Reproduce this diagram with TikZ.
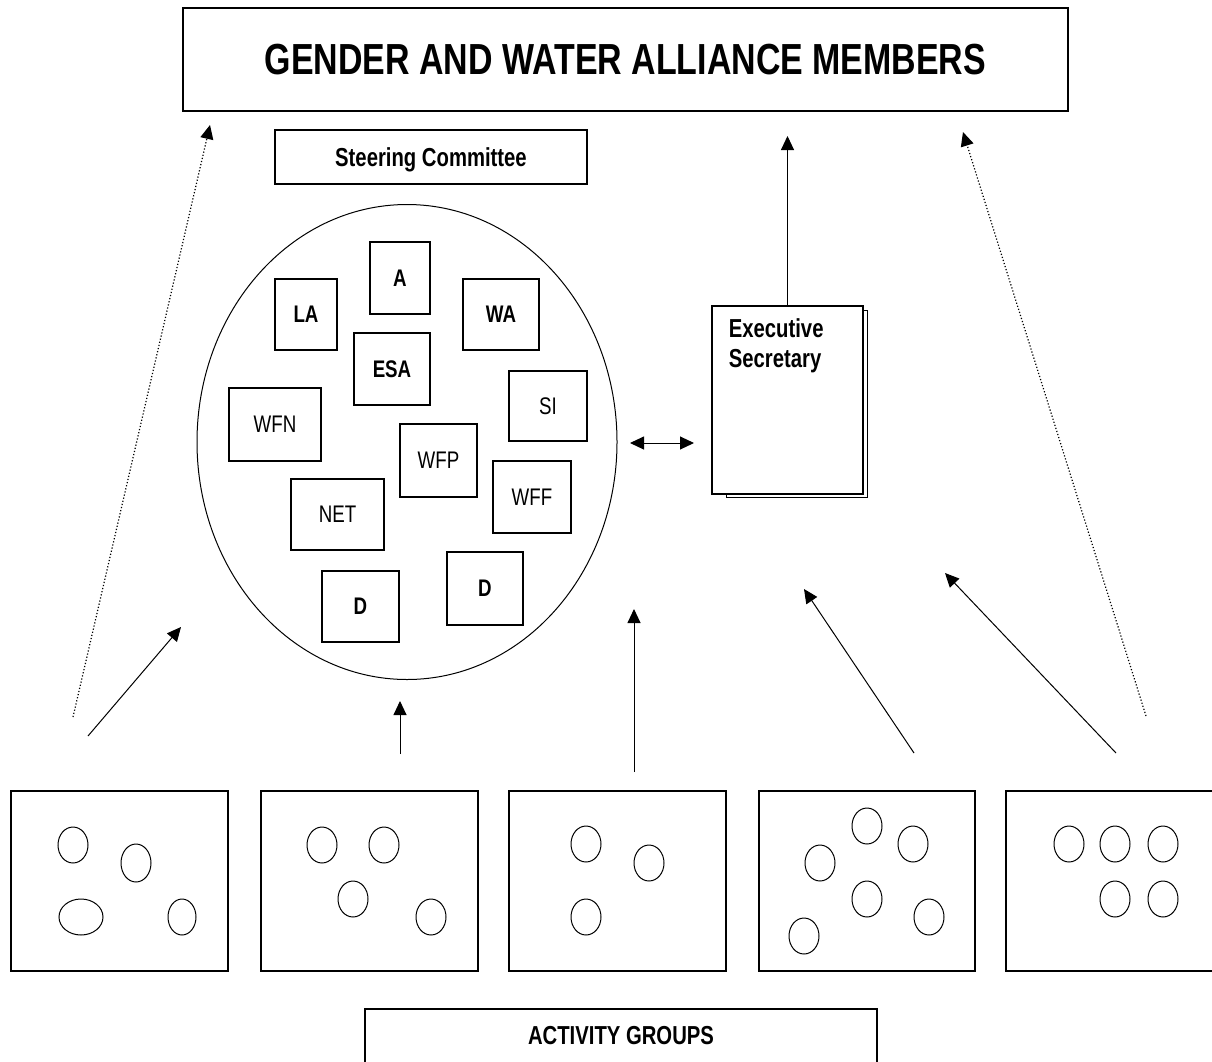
\documentclass[tikz,border=0pt]{standalone}
\usepackage{fontspec}
\newfontfamily\narrowfont{Liberation Sans}[FakeStretch=0.78]
\usetikzlibrary{shapes.geometric,arrows.meta}

\begin{document}
\begin{tikzpicture}[x=1pt,y=-1pt,thick,
  box/.style={draw,line width=1.3pt,inner sep=0pt},
  member/.style={box,line width=1.1pt,font=\narrowfont\bfseries\fontsize{24}{28}\selectfont},
  thin member/.style={member,font=\narrowfont\fontsize{24}{28}\selectfont},
  group/.style={box,minimum width=217pt,minimum height=180pt},
  link/.style={-{Triangle[length=14pt,width=13pt]},line width=1pt},
  dotted link/.style={link,line width=1.2pt,dash pattern=on 1.2pt off 2pt}]
\tikzstyle{blob} = [draw,line width=1pt]

\useasboundingbox (0,0) rectangle (1212,1061);
\clip (0,0) rectangle (1212,1061);

\node[box,line width=1.5pt,minimum width=885pt,minimum height=103pt,font=\narrowfont\bfseries\fontsize{43.5}{50}\selectfont] (members) at (625.5,59.5) {GENDER AND WATER ALLIANCE MEMBERS};
\node[box,minimum width=312pt,minimum height=54pt,text depth=0pt,font=\narrowfont\bfseries\fontsize{26}{30}\selectfont] (steering) at (431,157) {Steering Committee};

% Steering committee members
\node[draw,ellipse,line width=1pt,minimum width=420pt,minimum height=475pt,inner sep=0pt] (committee) at (407,442) {};
\node[member,minimum width=60pt,minimum height=72pt] (a) at (400,278) {A};
\node[member,minimum width=62pt,minimum height=71pt] (la) at (306,314.5) {LA};
\node[member,minimum width=76pt,minimum height=71pt] (wa) at (501,314.5) {WA};
\node[member,minimum width=76pt,minimum height=72pt] (esa) at (392,369) {ESA};
\node[thin member,minimum width=78pt,minimum height=70pt] (si) at (548,406) {SI};
\node[thin member,minimum width=92pt,minimum height=73pt] (wfn) at (275,424.5) {WFN};
\node[thin member,minimum width=77pt,minimum height=73pt] (wfp) at (438.5,460.5) {WFP};
\node[thin member,minimum width=78pt,minimum height=72pt] (wff) at (532,497) {WFF};
\node[thin member,minimum width=93pt,minimum height=71pt] (net) at (337.5,514.5) {NET};
\node[member,minimum width=77pt,minimum height=71pt] (d1) at (360.5,606.5) {D};
\node[member,minimum width=76pt,minimum height=73pt] (d2) at (485,588.5) {D};

% Executive secretary
\node[box,line width=1.1pt,minimum width=151pt,minimum height=188pt] (es) at (787.5,400) {};
\draw[line width=1.1pt] ([xshift=15pt]es.south west) -- ++(0pt,-3pt) -| ([shift={(4pt,-5pt)}]es.north east) -- ++(-4pt,0pt);
\node[anchor=north west,align=left,inner sep=0pt,font=\narrowfont\bfseries\fontsize{26}{30}\selectfont] (eslabel) at ([shift={(17pt,-13pt)}]es.north west) {Executive\\Secretary};

% Activity groups
\node[group] (g1) at (119.5,881) {};
\node[group] (g2) at (369.5,881) {};
\node[group] (g3) at (617.5,881) {};
\node[group,minimum width=216pt] (g4) at (867,881) {};
\node[group] (g5) at (1114.5,881) {};
\node[box,minimum width=512pt,minimum height=54pt,font=\narrowfont\bfseries\fontsize{26}{30}\selectfont] (activity) at (621,1036) {ACTIVITY GROUPS};

\draw[blob] (73,845) ellipse [x radius=15pt,y radius=18pt];
\draw[blob] (136,863) ellipse [x radius=15pt,y radius=19pt];
\draw[blob] (81,917) ellipse [x radius=22pt,y radius=18pt];
\draw[blob] (182,917) ellipse [x radius=14pt,y radius=18pt];

\draw[blob] (322,845) ellipse [x radius=15pt,y radius=18pt];
\draw[blob] (384,845) ellipse [x radius=15pt,y radius=18pt];
\draw[blob] (353,899) ellipse [x radius=15pt,y radius=18pt];
\draw[blob] (431,917) ellipse [x radius=15pt,y radius=18pt];

\draw[blob] (586,844) ellipse [x radius=15pt,y radius=18pt];
\draw[blob] (649,863) ellipse [x radius=15pt,y radius=18pt];
\draw[blob] (586,917) ellipse [x radius=15pt,y radius=18pt];

\draw[blob] (867,826) ellipse [x radius=15pt,y radius=18pt];
\draw[blob] (913,844) ellipse [x radius=15pt,y radius=18pt];
\draw[blob] (820,863) ellipse [x radius=15pt,y radius=18pt];
\draw[blob] (867,899) ellipse [x radius=15pt,y radius=18pt];
\draw[blob] (929,917) ellipse [x radius=15pt,y radius=18pt];
\draw[blob] (804,936) ellipse [x radius=15pt,y radius=18pt];

\draw[blob] (1069,844) ellipse [x radius=15pt,y radius=18pt];
\draw[blob] (1115,844) ellipse [x radius=15pt,y radius=18pt];
\draw[blob] (1163,844) ellipse [x radius=15pt,y radius=18pt];
\draw[blob] (1115,899) ellipse [x radius=15pt,y radius=18pt];
\draw[blob] (1163,899) ellipse [x radius=15pt,y radius=18pt];

% Arrows
\coordinate (foot1) at (73,717);
\coordinate (tip1) at (210,125);
\coordinate (foot2) at (88,736);
\coordinate (tip2) at (181,627);
\coordinate (foot3) at (400,754);
\coordinate (tip3) at (400,701);
\coordinate (foot4) at (634,772);
\coordinate (tip4) at (634,609);
\coordinate (foot5) at (914,753);
\coordinate (tip5) at (804,589);
\coordinate (foot6) at (1116,753);
\coordinate (tip6) at (945,573);
\coordinate (foot7) at (1146,716);
\coordinate (tip7) at (963,132);
\coordinate (estip) at (787.5,136);
\coordinate (swapl) at (630,443);
\coordinate (swapr) at (694,443);

\draw[dotted link] (foot1) -- (tip1);
\draw[link] (foot2) -- (tip2);
\draw[link] (foot3) -- (tip3);
\draw[link] (foot4) -- (tip4);
\draw[link] (foot5) -- (tip5);
\draw[link] (foot6) -- (tip6);
\draw[dotted link] (foot7) -- (tip7);
\draw[link] (es.north) -- (estip);
\draw[{Triangle[length=14pt,width=13pt]}-{Triangle[length=14pt,width=13pt]},line width=1pt] (swapl) -- (swapr);

\end{tikzpicture}
\end{document}
